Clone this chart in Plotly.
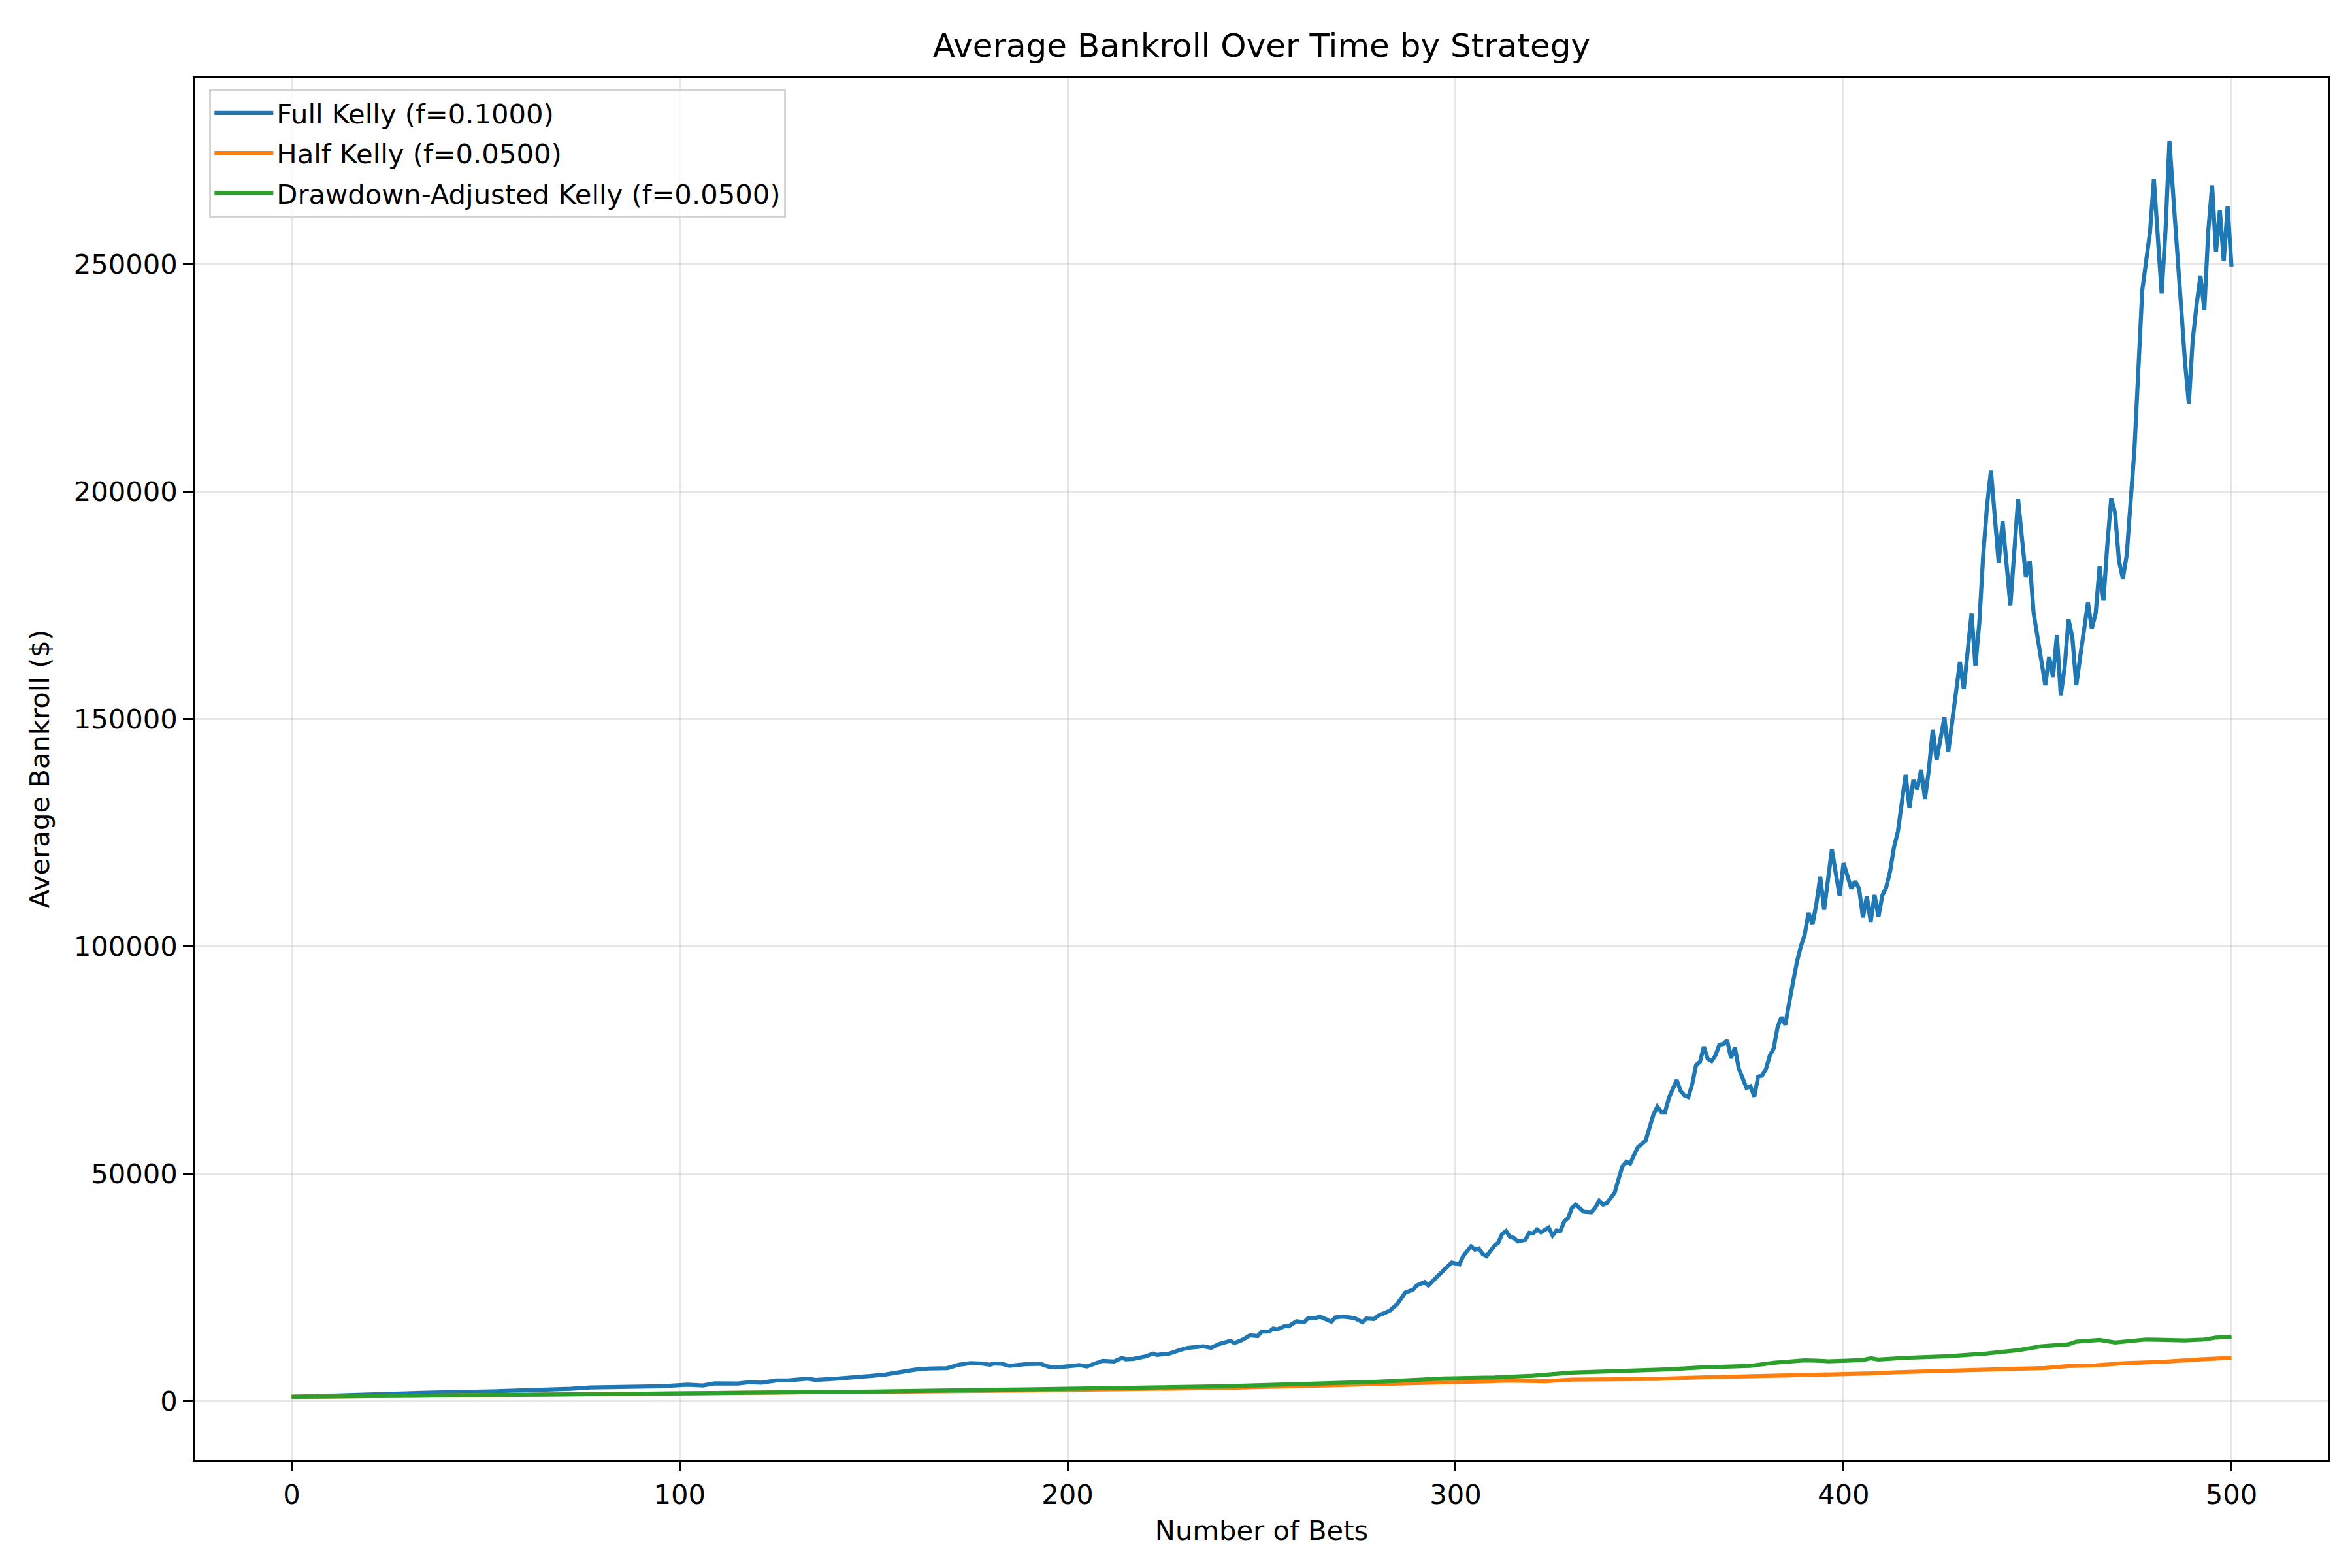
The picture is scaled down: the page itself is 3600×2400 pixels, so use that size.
import plotly.graph_objects as go

# ---------------- data ----------------
full_x = [0, 17, 35, 54, 69, 72, 77, 84, 95, 102, 106, 109, 115, 118, 121, 125, 128, 133, 135, 140,
          145, 149, 153, 158, 161, 164, 169, 172, 175, 178, 180, 181, 183, 185, 189, 193, 195, 197, 200,
          203, 205, 207, 209, 212, 214, 215, 217, 220, 222, 223, 226, 229, 231, 235, 237, 239, 242, 243,
          245, 247, 249, 250, 252, 253, 254, 256, 257, 259, 261, 262, 264, 265, 268, 269, 271, 274, 276,
          277, 279, 280, 282, 283, 285, 287, 289, 290, 292, 293, 295, 299, 301, 302, 304, 305, 306, 307,
          308, 310, 311, 312, 313, 314, 315, 316, 318, 319, 320, 321, 322, 324, 325, 326, 327, 328, 329,
          330, 331, 333, 335, 336, 337, 338, 339, 341, 342, 343, 344, 345, 346, 347, 349, 350, 351, 352,
          353, 354, 355, 357, 358, 359, 360, 361, 362, 363, 364, 365, 366, 367, 368, 369, 370, 371, 372,
          373, 375, 376, 377, 378, 379, 380, 381, 382, 383, 384, 385, 386, 387, 388, 389, 390, 391, 392,
          393, 394, 395, 396, 397, 398, 399, 400, 401, 402, 403, 404, 405, 406, 407, 408, 409, 410, 411,
          412, 413, 414, 416, 417, 418, 419, 420, 421, 422, 423, 424, 425, 426, 427, 428, 429, 430, 431,
          432, 433, 434, 435, 436, 437, 438, 440, 441, 443, 445, 446, 447, 448, 449, 451, 452, 453, 454,
          455, 456, 457, 458, 459, 460, 461, 463, 464, 465, 466, 467, 468, 469, 470, 471, 472, 473, 475,
          476, 477, 479, 480, 482, 483, 484, 485, 487, 488, 489, 490, 491, 492, 493, 494, 495, 496, 497,
          498, 499, 500]
full_y = [1000, 1500, 1900, 2250, 2500, 2750, 3050, 3150, 3300, 3650, 3500, 3950, 3900, 4200, 4100, 4600,
          4600, 5000, 4700, 4950, 5200, 5550, 5900, 6600, 7000, 7200, 7300, 8050, 8400, 8300, 8050, 8300,
          8250, 7800, 8150, 8250, 7650, 7450, 7700, 7950, 7650, 8300, 8900, 8750, 9550, 9250, 9350, 9850,
          10500, 10200, 10450, 11300, 11750, 12100, 11750, 12600, 13300, 12800, 13500, 14500, 14350, 15300,
          15350, 16000, 15800, 16550, 16500, 17600, 17400, 18300, 18300, 18650, 17500, 18450, 18650, 18300,
          17400, 18200, 18100, 18800, 19450, 19900, 21400, 23900, 24550, 25450, 26200, 25450, 27200, 30500,
          30100, 32000, 34100, 33350, 33600, 32350, 31900, 34250, 34850, 36800, 37450, 36150, 35950, 35150,
          35500, 37050, 36900, 37800, 37150, 38200, 36450, 37550, 37400, 39500, 40300, 42550, 43250, 41700,
          41550, 42550, 44100, 43250, 43600, 45850, 48850, 51650, 52650, 52300, 54150, 55900, 57300, 60450,
          63050, 64750, 63600, 63600, 66750, 70600, 68250, 67250, 66900, 69750, 73950, 74650, 77950, 75300,
          74800, 76050, 78400, 78550, 79350, 75450, 77800, 73150, 68900, 69250, 67000, 71400, 71600, 73050,
          76000, 77600, 82250, 84450, 82800, 87700, 92400, 96650, 100000, 102650, 107400, 104850, 109350,
          115350, 108100, 115350, 121350, 116100, 111200, 118300, 115200, 112750, 114350, 112750, 106400,
          111050, 105450, 111300, 106550, 111200, 113000, 116500, 121800, 125200, 137750, 130500, 136600,
          134550, 138850, 132450, 138900, 147650, 141000, 146050, 150350, 142800, 149800, 155400, 162550,
          156600, 165150, 173150, 161650, 171150, 186000, 197000, 204600, 184300, 193450, 175000, 198300,
          188600, 181300, 184750, 173300, 162800, 157450, 163700, 159300, 168450, 155200, 161400, 171950,
          167800, 157450, 163700, 175600, 169900, 173300, 183550, 176050, 188400, 198500, 195300, 184750,
          180900, 186100, 209500, 228250, 244250, 257100, 268700, 243550, 257550, 277050, 264850, 240600,
          228700, 219350, 233300, 241050, 247450, 239950, 257100, 267350, 252700, 261850, 250700, 262750,
          249500]

half_x = [0, 50, 95, 150, 189, 240, 280, 297, 314, 323, 330, 341, 352, 363, 377, 388, 393, 400, 407,
          414, 425, 438, 443, 452, 458, 465, 472, 483, 492, 500]
half_y = [1000, 1330, 1650, 2100, 2400, 2950, 3680, 4160, 4550, 4400, 4790, 4790, 4930, 5260, 5500,
          5840, 5800, 5840, 6130, 6410, 6700, 6940, 7270, 7320, 7750, 7900, 8370, 8710, 9240, 9570]

dd_x = [0, 50, 95, 150, 189, 240, 280, 297, 310, 320, 330, 341, 355, 363, 376, 382, 390, 393, 396,
        401, 405, 407, 409, 416, 427, 437, 445, 451, 458, 460, 466, 470, 475, 478, 488, 493, 496, 500]
dd_y = [1000, 1350, 1700, 2150, 2630, 3300, 4300, 5020, 5260, 5650, 6320, 6560, 7030, 7420, 7800,
        8470, 9000, 8950, 8800, 8950, 9090, 9470, 9190, 9570, 9900, 10530, 11250, 12110, 12540, 13110,
        13490, 12920, 13250, 13590, 13400, 13590, 14020, 14210]

series_names = ["Full Kelly (f=0.1000)", "Half Kelly (f=0.0500)", "Drawdown-Adjusted Kelly (f=0.0500)"]
series_colors = ["#1f77b4", "#ff7f0e", "#2ca02c"]

x_ticks = [0, 100, 200, 300, 400, 500]
y_ticks = [0, 50000, 100000, 150000, 200000, 250000]

title_text = "Average Bankroll Over Time by Strategy"
x_title = "Number of Bets"
y_title = "Average Bankroll ($)"

# ---------------- figure ----------------
W, H = 3600, 2400
L, R, T, B = 290, 3556, 112, 2226   # plot-area pixel box
FONT = "DejaVu Sans"
fs = 41.7

fig = go.Figure()
for i, (xs, ys, name, col) in enumerate(zip([full_x, half_x, dd_x], [full_y, half_y, dd_y],
                                             series_names, series_colors)):
    fig.add_trace(go.Scatter(x=xs, y=ys, mode="lines", name=name, legendgroup=f"g{i}",
                             line=dict(color=col, width=6.25)))

all_y = full_y + half_y + dd_y
ymin, ymax = min(all_y), max(all_y)
pad = 0.05 * (ymax - ymin)
xmin, xmax = 0, 500
xpad = 0.05 * (xmax - xmin)

axis_common = dict(
    showline=True, linecolor="black", linewidth=3.33, mirror=True,
    ticks="outside", ticklen=14.6, tickwidth=3.33, tickcolor="black",
    showgrid=True, gridcolor="rgba(176,176,176,0.3)", gridwidth=3.33,
    zeroline=False, tickfont=dict(family=FONT, size=fs, color="black"),
    title_font=dict(family=FONT, size=fs, color="black"),
)

fig.update_layout(
    width=W, height=H,
    margin=dict(l=L, r=W - R, t=T, b=H - B, autoexpand=False),
    paper_bgcolor="white", plot_bgcolor="white",
    font=dict(family=FONT, size=fs, color="black"),
    title=dict(text=title_text, x=(L + R) / 2 / W, xanchor="center",
               y=1 - 61 / H, yanchor="middle", yref="container",
               font=dict(family=FONT, size=50, color="black")),
    xaxis=dict(range=[xmin - xpad, xmax + xpad], tickvals=x_ticks,
               title=dict(text=x_title, standoff=18), **axis_common),
    yaxis=dict(range=[ymin - pad, ymax + pad], tickvals=y_ticks, tickformat="d",
               title=dict(text=y_title, standoff=25), **axis_common),
    legend=dict(x=(312 - L) / (R - L), y=(B - 128) / (B - T), xanchor="left", yanchor="top",
                bgcolor="rgba(255,255,255,0.8)", bordercolor="#d4d4d4", borderwidth=3.33,
                font=dict(family=FONT, size=fs, color="black"), itemwidth=90,
                tracegroupgap=4),
    showlegend=True,
)

fig.write_html("out.html")
